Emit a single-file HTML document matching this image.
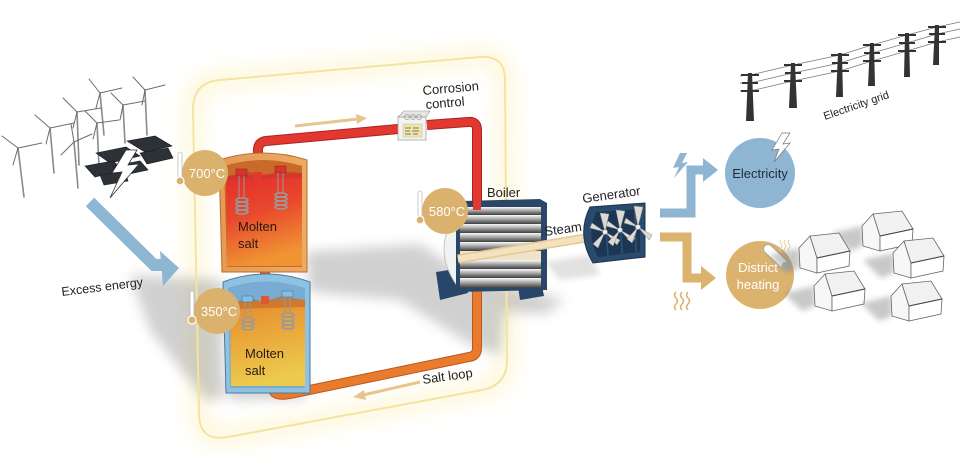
<!DOCTYPE html>
<html><head><meta charset="utf-8">
<style>
html,body{margin:0;padding:0;background:#fff;overflow:hidden;}
svg{display:block;}
text{font-family:"Liberation Sans",sans-serif;}
</style></head><body>
<svg width="960" height="457" viewBox="0 0 960 457" xmlns="http://www.w3.org/2000/svg">
<defs>
 <filter id="b10" x="-50%" y="-50%" width="200%" height="200%"><feGaussianBlur stdDeviation="10"/></filter>
 <filter id="b6" x="-50%" y="-50%" width="200%" height="200%"><feGaussianBlur stdDeviation="6"/></filter>
 <filter id="b3" x="-50%" y="-50%" width="200%" height="200%"><feGaussianBlur stdDeviation="3"/></filter>
 <linearGradient id="hot" x1="0" y1="0" x2="0.25" y2="1">
  <stop offset="0" stop-color="#e32b2b"/><stop offset="0.5" stop-color="#e9492d"/><stop offset="1" stop-color="#ef9333"/>
 </linearGradient>
 <linearGradient id="cold" x1="0" y1="0" x2="0.2" y2="1">
  <stop offset="0" stop-color="#e8882c"/><stop offset="1" stop-color="#ecca4c"/>
 </linearGradient>
 <linearGradient id="tube" x1="0" y1="0" x2="0" y2="1">
  <stop offset="0" stop-color="#fafafa"/><stop offset="0.45" stop-color="#a8a8a8"/><stop offset="1" stop-color="#3c3c3c"/>
 </linearGradient>
 <linearGradient id="orangeShell" x1="0" y1="0" x2="1" y2="0">
  <stop offset="0" stop-color="#e39a55"/><stop offset="1" stop-color="#eeaa65"/>
 </linearGradient>
 <g id="house">
  <polygon points="-28,22 3,15 3,35 -10,40" fill="#777" opacity="0.4" filter="url(#b3)"/>
  <polygon points="2,15 13,3 20,25 20,40 3,35" fill="#f7f7f7" stroke="#666" stroke-width="0.8"/>
  <polygon points="13,3 42,0 53,18 20,25" fill="#f1f1f1" stroke="#666" stroke-width="0.8"/>
  <polygon points="20,25 53,18 52,33 20,40" fill="#fff" stroke="#666" stroke-width="0.8"/>
  <line x1="20" y1="25" x2="53" y2="18" stroke="#444" stroke-width="1"/>
 </g>
</defs>

<!-- glow box -->
<path d="M193,110 Q193,82 220,80 L480,57 Q505,55 505,80 L507,360 Q507,385 482,390 L228,437 Q200,442 199,415 Z" fill="none" stroke="#fbe685" stroke-width="16" opacity="0.35" filter="url(#b10)"/>

<!-- ground shadows -->
<g fill="#7a7a7a" opacity="0.35" filter="url(#b6)">
 <polygon points="130,275 223,280 224,398 205,400 150,330"/>
 <polygon points="305,252 420,244 505,300 500,355 470,344 400,300 310,292"/>
 <polygon points="400,278 445,270 565,300 545,314 420,306"/>
 <polygon points="228,378 307,376 305,398 230,400"/>
</g>
<g fill="#7a7a7a" opacity="0.22" filter="url(#b3)">
 <polygon points="545,262 590,255 600,275 560,280"/>
</g>

<path d="M193,110 Q193,82 220,80 L480,57 Q505,55 505,80 L507,360 Q507,385 482,390 L228,437 Q200,442 199,415 Z" fill="none" stroke="#f3e4a2" stroke-width="2"/>

<!-- wind turbines -->
<g stroke="#8a8a8a" stroke-width="1.6" fill="none" stroke-linecap="round">
 <line x1="18" y1="148" x2="24" y2="197"/>
 <line x1="50" y1="128" x2="54" y2="173"/>
 <line x1="77" y1="112" x2="79" y2="165"/>
 <line x1="74" y1="142" x2="78" y2="188"/>
 <line x1="100" y1="93" x2="104" y2="135"/>
 <line x1="97" y1="123" x2="99" y2="167"/>
 <line x1="123" y1="105" x2="125" y2="143"/>
 <line x1="145" y1="90" x2="147" y2="135"/>
</g>
<g stroke="#6d6d6d" stroke-width="1" fill="none" stroke-linecap="round">
 <path d="M18,148 l-16,-12 M18,148 l24,-5 M18,148 l-5,17"/>
 <path d="M50,128 l-15,-13 M50,128 l24,-5 M50,128 l-4,16"/>
 <path d="M77,112 l-14,-14 M77,112 l24,-4 M77,112 l-4,16"/>
 <path d="M74,142 l-13,13 M74,142 l18,-8 M74,142 l-3,-18"/>
 <path d="M100,93 l-11,-14 M100,93 l22,-5 M100,93 l-4,15"/>
 <path d="M97,123 l-12,-12 M97,123 l22,-3 M97,123 l-4,16"/>
 <path d="M123,105 l-12,-12 M123,105 l22,-4 M123,105 l-3,15"/>
 <path d="M145,90 l-12,-13 M145,90 l20,-5 M145,90 l-3,15"/>
</g>

<!-- solar panels -->
<g fill="#2d3138" stroke="#15171a" stroke-width="0.6">
 <polygon points="127,141 155,136 172,146 145,152"/>
 <polygon points="96,153 126,147 140,156 110,163"/>
 <polygon points="140,153 168,148 173,158 147,164"/>
 <polygon points="85,166 113,161 123,170 95,177"/>
 <polygon points="113,166 140,161 148,170 120,176"/>
 <polygon points="100,175 125,171 128,181 104,185"/>
</g>
<polygon points="126,150 112,173 122,172 110,198 139,164 128,165 137,150" fill="#fff" stroke="#333" stroke-width="0.8"/>

<!-- excess energy arrow -->
<polyline points="90,202 154,265 164,265" fill="none" stroke="#8db6d3" stroke-width="12" stroke-linejoin="miter"/>
<polygon points="160,251 179,268 163,286" fill="#8db6d3"/>
<text x="62" y="296" font-size="12.5" fill="#222" transform="rotate(-7 62 296)">Excess energy</text>

<!-- pipes -->
<g fill="none" stroke-linecap="butt" stroke-linejoin="round">
 <path d="M258,183 L258,150 Q258,142 266,141 L398,129" stroke="#a92520" stroke-width="10"/>
 <path d="M258,183 L258,150 Q258,142 266,141 L398,129" stroke="#e3382f" stroke-width="8"/>
 <path d="M427,125 L468,122 Q477,121 477,130 L477,210" stroke="#a92520" stroke-width="10"/>
 <path d="M427,125 L468,122 Q477,121 477,130 L477,210" stroke="#e3382f" stroke-width="8"/>
 <path d="M477,286 L477,348 Q477,356 469,357 L290,394 Q273,397 273,388 L273,383" stroke="#b65a1e" stroke-width="10"/>
 <path d="M477,286 L477,348 Q477,356 469,357 L290,394 Q273,397 273,388 L273,383" stroke="#ea7a2c" stroke-width="8"/>
 <path d="M265,264 L265,302" stroke="#b04020" stroke-width="10"/>
 <path d="M265,264 L265,302" stroke="#e3562c" stroke-width="8"/>
</g>

<!-- top tank -->
<path d="M219,160 Q263,146 307,160 L307,272 L222,272 Z" fill="url(#orangeShell)" stroke="#b3702f" stroke-width="1"/>
<path d="M224,166 Q263,154 302,166 L302,267 L227,267 Z" fill="#c96a2a"/>
<path d="M226,176 L302,173 L302,266 L227,266 Z" fill="url(#hot)"/>
<path d="M226,176 L250,172 L262,176 L280,171 L302,173 L302,178 L226,180 Z" fill="#c8382a" opacity="0.6"/>
<g>
 <rect x="236" y="169" width="11" height="7" fill="#d8332c" stroke="#8a1e1a" stroke-width="0.5"/>
 <rect x="275" y="166" width="11" height="7" fill="#d8332c" stroke="#8a1e1a" stroke-width="0.5"/>
 <path d="M239,176 L239,198 M244,176 L244,198 M278,173 L278,193 M283,173 L283,193" stroke="#999" stroke-width="1"/>
 <g fill="none" stroke="#9a9a9a" stroke-width="1.6">
  <ellipse cx="242" cy="200" rx="6" ry="2"/><ellipse cx="242" cy="204" rx="6" ry="2"/><ellipse cx="242" cy="208" rx="6" ry="2"/><ellipse cx="242" cy="212" rx="6" ry="2"/>
  <ellipse cx="281" cy="195" rx="6" ry="2"/><ellipse cx="281" cy="199" rx="6" ry="2"/><ellipse cx="281" cy="203" rx="6" ry="2"/><ellipse cx="281" cy="207" rx="6" ry="2"/>
 </g>
</g>
<path d="M258,183 L258,172" stroke="#e3382f" stroke-width="8"/>
<text x="238" y="231" font-size="13" fill="#2a1a10">Molten</text>
<text x="238" y="248" font-size="13" fill="#2a1a10">salt</text>

<!-- bottom tank -->
<path d="M223,282 Q266,266 310,282 L310,393 L226,393 Z" fill="#8fc1e0" stroke="#4a7aa3" stroke-width="1"/>
<path d="M228,288 Q266,275 305,288 L305,388 L230,388 Z" fill="#79acd2"/>
<path d="M230,303 L305,300 L305,386 L231,386 Z" fill="url(#cold)"/>
<path d="M230,303 L252,298 L262,302 L282,296 L305,300 L305,307 L230,309 Z" fill="#c46e2a" opacity="0.7"/>
<path d="M265,296 L265,304" stroke="#e3562c" stroke-width="8"/>
<g>
 <rect x="242" y="296" width="11" height="6" fill="#86bde0" stroke="#3e6b92" stroke-width="0.5"/>
 <rect x="282" y="291" width="11" height="6" fill="#86bde0" stroke="#3e6b92" stroke-width="0.5"/>
 <path d="M245,302 L245,318 M250,302 L250,318 M285,297 L285,313 M290,297 L290,313" stroke="#999" stroke-width="1"/>
 <g fill="none" stroke="#9a9a9a" stroke-width="1.6">
  <ellipse cx="248" cy="320" rx="6" ry="2"/><ellipse cx="248" cy="324" rx="6" ry="2"/><ellipse cx="248" cy="328" rx="6" ry="2"/>
  <ellipse cx="288" cy="315" rx="6" ry="2"/><ellipse cx="288" cy="319" rx="6" ry="2"/><ellipse cx="288" cy="323" rx="6" ry="2"/><ellipse cx="288" cy="327" rx="6" ry="2"/>
 </g>
</g>
<text x="245" y="358" font-size="13" fill="#2a1a10">Molten</text>
<text x="245" y="375" font-size="13" fill="#2a1a10">salt</text>

<!-- flow arrows -->
<line x1="295" y1="126" x2="358" y2="119" stroke="#e8c48e" stroke-width="3"/>
<polygon points="356,114 367,118 357,124" fill="#e8c48e"/>
<line x1="420" y1="382" x2="363" y2="395" stroke="#e8c48e" stroke-width="3"/>
<polygon points="364,390 353,397 366,400" fill="#e8c48e"/>
<text x="423" y="384" font-size="13" fill="#222" transform="rotate(-8 423 384)">Salt loop</text>

<!-- corrosion control -->
<polygon points="398,117 404,111 430,111 426,117" fill="#e6e6e4" stroke="#999" stroke-width="0.6"/>
<rect x="398" y="117" width="28" height="23" fill="#f3f3f1" stroke="#999" stroke-width="0.7"/>
<g fill="none" stroke="#999" stroke-width="0.7"><circle cx="407" cy="117" r="2.5"/><circle cx="413" cy="117" r="2.5"/><circle cx="419" cy="117" r="2.5"/></g>
<rect x="403" y="124" width="19" height="13" fill="#f0e6a8" stroke="#aaa" stroke-width="0.4"/>
<path d="M405,128 h6 M413,128 h6 M405,131 h5 M412,131 h7 M405,134 h6 M413,134 h5" stroke="#555" stroke-width="0.8"/>
<text x="423" y="95" font-size="13" fill="#222" transform="rotate(-5 423 95)">Corrosion</text>
<text x="426" y="109" font-size="13" fill="#222" transform="rotate(-5 426 109)">control</text>

<!-- boiler -->
<path d="M436,272 L462,268 L468,293 L440,300 Z" fill="#27466a"/>
<path d="M517,280 L540,276 L544,296 L520,300 Z" fill="#27466a"/>
<path d="M460,210 Q428,248 460,290 Z" fill="#f2f2f2" stroke="#bbb" stroke-width="0.8"/>
<path d="M456,206 L462,201 L540,199 L547,203 L547,290 L456,292 Z" fill="#2a4767"/>
<g>
 <rect x="460" y="207" width="81" height="8" fill="url(#tube)"/>
 <rect x="460" y="215" width="81" height="9" fill="url(#tube)"/>
 <rect x="460" y="224" width="81" height="9" fill="url(#tube)"/>
 <rect x="460" y="233" width="81" height="9" fill="url(#tube)"/>
 <rect x="460" y="242" width="81" height="9" fill="url(#tube)"/>
 <rect x="460" y="251" width="81" height="9" fill="#efe3c8"/>
 <rect x="460" y="260" width="81" height="9" fill="url(#tube)"/>
 <rect x="460" y="269" width="81" height="9" fill="url(#tube)"/>
 <rect x="460" y="278" width="81" height="10" fill="url(#tube)"/>
</g>
<path d="M477,198 L477,210" stroke="#e3382f" stroke-width="8"/>
<text x="487" y="197" font-size="13" fill="#222">Boiler</text>

<!-- steam pipe -->
<path d="M458,259 L610,234" stroke="#e3c796" stroke-width="9"/>
<path d="M458,259 L610,234" stroke="#f4e1bd" stroke-width="6"/>
<text x="545" y="236" font-size="13" fill="#222" transform="rotate(-8 545 236)">Steam</text>

<!-- generator -->
<path d="M590,207 Q576,235 593,263 L645,257 L645,203 Z" fill="#2a4a6e" stroke="#1a3350" stroke-width="1"/>
<path d="M596,212 Q586,236 598,257 L640,252 L640,209 Z" fill="#1d3654"/>
<path d="M605,212 L608,256 M620,210 L622,254 M635,208 L636,252" stroke="#2f5479" stroke-width="1.5"/>
<g fill="#dcdad4" stroke="#8a8a8a" stroke-width="0.5">
 <polygon points="605,232 600,213 609,214"/><polygon points="605,232 620,240 617,245"/><polygon points="605,232 598,248 593,244"/><polygon points="605,232 590,228 592,223"/>
 <polygon points="620,230 616,210 625,211"/><polygon points="620,230 635,238 632,243"/><polygon points="620,230 613,246 608,242"/><polygon points="620,230 606,226 608,221"/>
 <polygon points="638,227 634,206 643,207"/><polygon points="638,227 652,235 649,240"/><polygon points="638,227 632,243 627,239"/><polygon points="638,227 624,223 626,218"/>
</g>
<circle cx="605" cy="232" r="2.5" fill="#eee" stroke="#888" stroke-width="0.5"/>
<circle cx="620" cy="230" r="2.5" fill="#eee" stroke="#888" stroke-width="0.5"/>
<circle cx="638" cy="227" r="2.5" fill="#eee" stroke="#888" stroke-width="0.5"/>
<text x="583" y="203" font-size="13" fill="#222" transform="rotate(-8 583 203)">Generator</text>

<!-- temperature badges -->
<g>
 <circle cx="205" cy="173" r="23" fill="#dab26e"/>
 <rect x="178" y="152" width="4" height="26" rx="2" fill="#fff" stroke="#aaa" stroke-width="0.6"/>
 <circle cx="180" cy="181" r="4" fill="#dab26e" stroke="#fff" stroke-width="1.2"/>
 <text x="207" y="178" font-size="13" fill="#fff" text-anchor="middle">700°C</text>

 <circle cx="217" cy="311" r="23" fill="#dab26e"/>
 <rect x="190" y="291" width="4" height="26" rx="2" fill="#fff" stroke="#aaa" stroke-width="0.6"/>
 <circle cx="192" cy="320" r="4" fill="#dab26e" stroke="#fff" stroke-width="1.2"/>
 <text x="219" y="316" font-size="13" fill="#fff" text-anchor="middle">350°C</text>

 <circle cx="445" cy="211" r="23" fill="#dab26e"/>
 <rect x="418" y="191" width="4" height="26" rx="2" fill="#fff" stroke="#aaa" stroke-width="0.6"/>
 <circle cx="420" cy="220" r="4" fill="#dab26e" stroke="#fff" stroke-width="1.2"/>
 <text x="447" y="216" font-size="13" fill="#fff" text-anchor="middle">580°C</text>
</g>

<!-- output arrows -->
<path d="M660,213 L691,213 L691,170 L705,170" fill="none" stroke="#8eb6d3" stroke-width="9" stroke-linejoin="miter"/>
<polygon points="703,158 718,170 703,182" fill="#8eb6d3"/>
<path d="M660,237 L687,237 L687,278 L703,278" fill="none" stroke="#dbb36e" stroke-width="9" stroke-linejoin="miter"/>
<polygon points="701,266 716,278 701,290" fill="#dbb36e"/>
<polygon points="680,153 673,168 679,167 674,178 688,162 682,163 687,153" fill="#8eb6d3"/>
<g fill="none" stroke="#dbb36e" stroke-width="1.5">
 <path d="M676,292 q-3,3 0,6 q3,3 0,6 q-3,3 0,6"/>
 <path d="M682,292 q-3,3 0,6 q3,3 0,6 q-3,3 0,6"/>
 <path d="M688,292 q-3,3 0,6 q3,3 0,6 q-3,3 0,6"/>
</g>

<!-- electricity / district heating circles -->
<circle cx="760" cy="173" r="35" fill="#8eb5d2"/>
<text x="760" y="178" font-size="13" fill="#1f2b3a" text-anchor="middle">Electricity</text>
<polygon points="782,133 772,150 779,149 774,162 790,143 783,144 790,133" fill="#fff" stroke="#777" stroke-width="0.7"/>

<circle cx="760" cy="275" r="34" fill="#dbb36e"/>
<text x="758" y="272" font-size="13" fill="#fff" text-anchor="middle">District</text>
<text x="758" y="289" font-size="13" fill="#fff" text-anchor="middle">heating</text>
<line x1="768" y1="249" x2="785" y2="265" stroke="#a8a8a8" stroke-width="10" stroke-linecap="round"/>
<line x1="768" y1="249" x2="785" y2="265" stroke="#fff" stroke-width="8" stroke-linecap="round"/>
<circle cx="786" cy="266" r="4.5" fill="#b8b8b8"/>
<g fill="none" stroke="#e8cf9c" stroke-width="1">
 <path d="M781,240 q-2,2 0,4 q2,2 0,4 q-2,2 0,4"/>
 <path d="M785,240 q-2,2 0,4 q2,2 0,4 q-2,2 0,4"/>
 <path d="M789,240 q-2,2 0,4 q2,2 0,4 q-2,2 0,4"/>
</g>

<!-- houses -->
<use href="#house" transform="translate(860,211)"/>
<use href="#house" transform="translate(797,233)"/>
<use href="#house" transform="translate(891,238)"/>
<use href="#house" transform="translate(812,271)"/>
<use href="#house" transform="translate(889,281)"/>

<!-- power grid -->
<g fill="none" stroke="#777" stroke-width="0.7">
 <path d="M740,76 L750,75 L793,65 L840,55 L872,45 L907,35 L937,27 L960,22"/>
 <path d="M740,83 L750,83 L793,73 L840,63 L872,53 L907,43 L937,34 L960,29"/>
 <path d="M740,91 L750,91 L793,81 L840,71 L872,61 L907,51 L937,42 L960,37"/>
</g>
<g fill="#333">
 <polygon points="748,73 752,73 754,121 746,121"/>
 <polygon points="791,63 795,63 797,108 789,108"/>
 <polygon points="838,53 842,53 843,97 836,97"/>
 <polygon points="870,43 874,43 875,86 868,86"/>
 <polygon points="905,33 909,33 910,77 904,77"/>
 <polygon points="935,25 939,25 939,65 933,65"/>
</g>
<g stroke="#333" stroke-width="2">
 <path d="M741,75 h18 M742,83 h16 M741,91 h18"/>
 <path d="M784,65 h18 M785,73 h16 M784,81 h18"/>
 <path d="M831,55 h18 M832,63 h16 M831,71 h18"/>
 <path d="M863,45 h18 M864,53 h16 M863,61 h18"/>
 <path d="M898,35 h18 M899,43 h16 M898,51 h18"/>
 <path d="M928,27 h18 M929,34 h16 M928,42 h18"/>
</g>
<text x="825" y="120" font-size="11" fill="#222" transform="rotate(-19 825 120)">Electricity grid</text>

</svg>
</body></html>
